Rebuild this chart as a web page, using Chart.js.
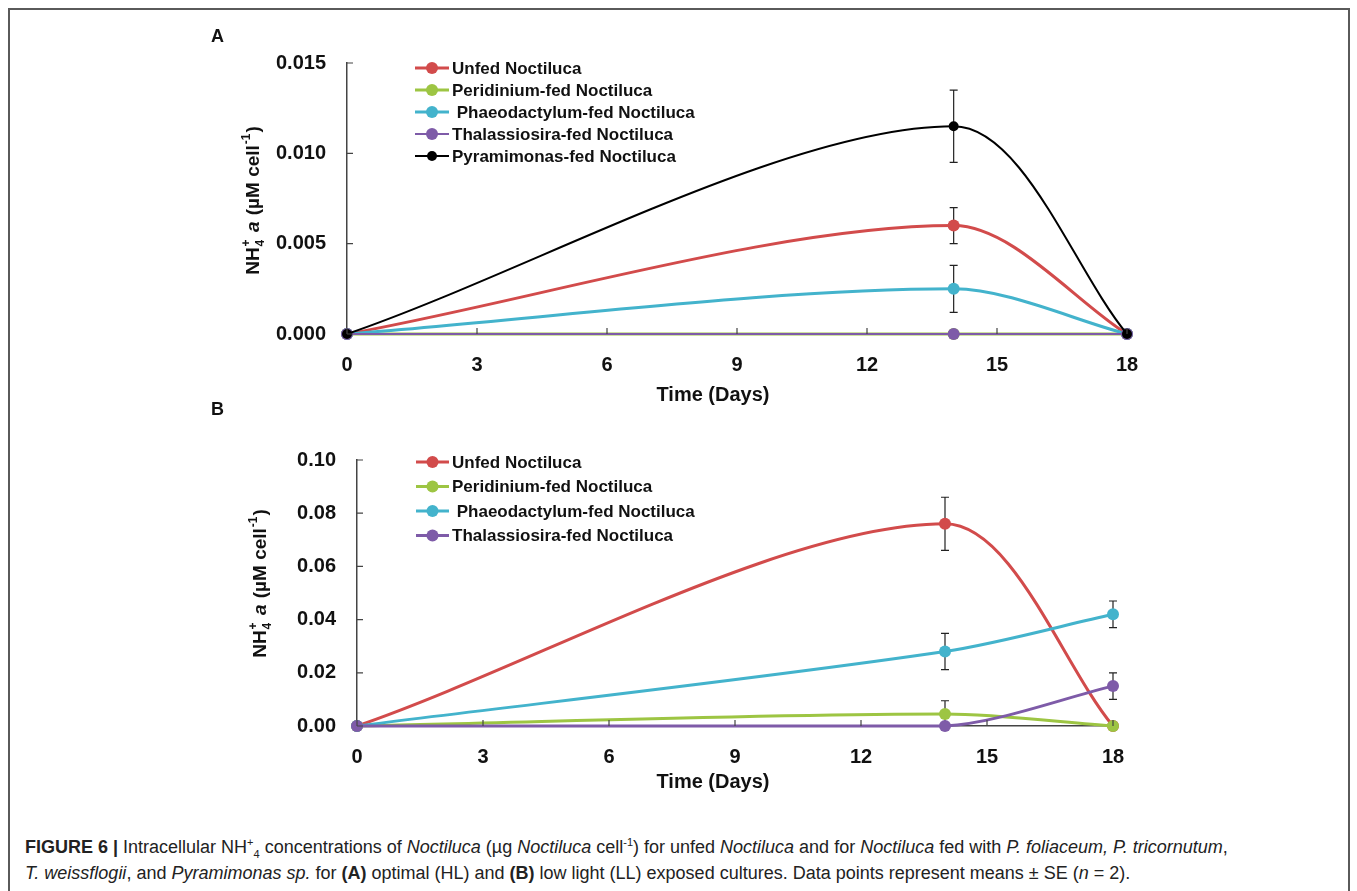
<!DOCTYPE html>
<html lang="en">
<head>
  <meta charset="UTF-8" />
  <title>Figure 6 - Intracellular NH4 in Noctiluca</title>
  <script src="https://cdn.jsdelivr.net/npm/chart.js"></script>
  <style>
    body { margin: 0; background: #fff; font-family: "Liberation Sans", Arial, sans-serif; }
    #frame {
      position: absolute; left: 8px; top: 8px; width: 1342px; height: 920px;
      box-sizing: border-box; border: 2px solid #5a5a5a;
    }
    canvas { position: absolute; }
    #chartA { left: 200px; top: 20px; }
    #chartB { left: 200px; top: 400px; }
    .panel { position: absolute; font: bold 18px "Liberation Sans", Arial, sans-serif; color: #111; }
    #caption {
      position: absolute; left: 25px; top: 834px; width: 1320px;
      font-size: 18px; line-height: 26px; color: #222; white-space: nowrap;
    }
    #caption sup, #caption sub { font-size: 11px; line-height: 0; }
  </style>
</head>
<body>
  <div id="frame"></div>
  <canvas id="chartA" width="980" height="390"></canvas>
  <canvas id="chartB" width="980" height="410"></canvas>
  <div class="panel" style="left:211px; top:26px;">A</div>
  <div class="panel" style="left:211px; top:399px;">B</div>
  <div id="caption"><b>FIGURE 6 |</b> Intracellular NH<sup>+</sup><sub>4</sub> concentrations of <i>Noctiluca</i> (µg <i>Noctiluca</i> cell<sup>-1</sup>) for unfed <i>Noctiluca</i> and for <i>Noctiluca</i> fed with <i>P. foliaceum, P. tricornutum</i>,<br><i>T. weissflogii</i>, and <i>Pyramimonas sp.</i> for <b>(A)</b> optimal (HL) and <b>(B)</b> low light (LL) exposed cultures. Data points represent means ± SE (<i>n</i> = 2).</div>

  <script>
    // sampling days
    const days = [0, 14, 18];

    // panel A (optimal light)
    const namesA = ['Unfed Noctiluca', 'Peridinium-fed Noctiluca', ' Phaeodactylum-fed Noctiluca', 'Thalassiosira-fed Noctiluca', 'Pyramimonas-fed Noctiluca'];
    const unfedA = [0, 0.0060, 0];
    const peridA = [0, 0, 0];
    const phaeoA = [0, 0.0025, 0];
    const thalA = [0, 0, 0];
    const pyraA = [0, 0.0115, 0];
    const unfedA_se = [0, 0.0010, 0];
    const peridA_se = [0, 0, 0];
    const phaeoA_se = [0, 0.0013, 0];
    const thalA_se = [0, 0, 0];
    const pyraA_se = [0, 0.0020, 0];

    // panel B (low light)
    const namesB = ['Unfed Noctiluca', 'Peridinium-fed Noctiluca', ' Phaeodactylum-fed Noctiluca', 'Thalassiosira-fed Noctiluca'];
    const unfedB = [0, 0.076, 0];
    const peridB = [0, 0.0045, 0];
    const phaeoB = [0, 0.028, 0.042];
    const thalB = [0, 0, 0.015];
    const unfedB_se = [0, 0.010, 0];
    const peridB_se = [0, 0.005, 0];
    const phaeoB_se = [0, 0.0068, 0.005];
    const thalB_se = [0, 0, 0.005];

    const colors = ['#d24b4b', '#9dc543', '#43b3cc', '#7e5ba8', '#000000'];

    function makeDataset(label, values, se, i, n, opts) {
      return Object.assign({
        label: label,
        data: days.map((d, k) => ({ x: d, y: values[k] })),
        se: se,
        borderColor: colors[i],
        backgroundColor: colors[i],
        borderWidth: 3,
        pointRadius: 6,
        pointBorderWidth: 0,
        tension: 0.3,
        clip: false,
        order: n - i
      }, opts || {});
    }

    function drawYTitle(ctx, cx, cy) {
      const big = 'bold 19px "Liberation Sans", Arial, sans-serif';
      const ital = 'italic bold 19px "Liberation Sans", Arial, sans-serif';
      const small = 'bold 12px "Liberation Sans", Arial, sans-serif';
      const parts = [
        { t: 'NH', f: big, dy: 0 },
        { t: '+', f: small, dy: -7, stack: '4' },
        { t: ' ', f: big, dy: 0 },
        { t: 'a', f: ital, dy: 0 },
        { t: ' (µM cell', f: big, dy: 0 },
        { t: '-1', f: small, dy: -7 },
        { t: ')', f: big, dy: 0 }
      ];
      ctx.save();
      ctx.translate(cx, cy);
      ctx.rotate(-Math.PI / 2);
      ctx.fillStyle = '#111';
      ctx.textBaseline = 'middle';
      ctx.textAlign = 'left';
      let total = 0;
      parts.forEach(p => { ctx.font = p.f; p.w = ctx.measureText(p.t).width + 1; total += p.w; });
      let x = -total / 2;
      parts.forEach(p => {
        ctx.font = p.f;
        ctx.fillText(p.t, x, p.dy);
        if (p.stack) ctx.fillText(p.stack, x, 7);
        x += p.w;
      });
      ctx.restore();
    }

    function decoPlugin(p) {
      return {
        id: 'deco',
        beforeDatasetsDraw(chart) {
          const ctx = chart.ctx, xs = chart.scales.x, ys = chart.scales.y;
          ctx.save();
          ctx.strokeStyle = '#222';
          ctx.lineWidth = 1.2;
          chart.data.datasets.forEach(ds => {
            ds.data.forEach((pt, k) => {
              const e = ds.se[k];
              if (!e) return;
              const x = xs.getPixelForValue(pt.x);
              const y1 = ys.getPixelForValue(pt.y + e);
              const y2 = ys.getPixelForValue(pt.y - e);
              ctx.beginPath();
              ctx.moveTo(x, y1); ctx.lineTo(x, y2);
              ctx.moveTo(x - 4, y1); ctx.lineTo(x + 4, y1);
              ctx.moveTo(x - 4, y2); ctx.lineTo(x + 4, y2);
              ctx.stroke();
            });
          });
          ctx.restore();
        },
        afterDraw(chart) {
          const ctx = chart.ctx, xs = chart.scales.x, ys = chart.scales.y, a = chart.chartArea;
          ctx.save();
          // inward tick marks
          ctx.strokeStyle = '#444';
          ctx.lineWidth = 1.2;
          ctx.beginPath();
          ys.ticks.forEach(t => {
            const y = ys.getPixelForValue(t.value);
            ctx.moveTo(a.left, y); ctx.lineTo(a.left + 6, y);
          });
          xs.ticks.forEach(t => {
            const x = xs.getPixelForValue(t.value);
            ctx.moveTo(x, a.bottom); ctx.lineTo(x, a.bottom - 6);
          });
          ctx.stroke();

          // legend: line with dot
          chart.data.datasets.forEach((ds, i) => {
            const y = p.legY + i * p.legDy;
            ctx.strokeStyle = ds.borderColor;
            ctx.lineWidth = ds.borderWidth;
            ctx.beginPath();
            ctx.moveTo(p.legX0, y); ctx.lineTo(p.legX1, y);
            ctx.stroke();
            ctx.fillStyle = ds.borderColor;
            ctx.beginPath();
            ctx.arc((p.legX0 + p.legX1) / 2, y, ds.pointRadius, 0, Math.PI * 2);
            ctx.fill();
            ctx.fillStyle = '#111';
            ctx.font = 'bold 17px "Liberation Sans", Arial, sans-serif';
            ctx.textBaseline = 'middle';
            ctx.textAlign = 'left';
            ctx.fillText(ds.label, p.legX1 + 3, y + 1);
          });

          // axis titles
          ctx.fillStyle = '#111';
          ctx.font = 'bold 20px "Liberation Sans", Arial, sans-serif';
          ctx.textAlign = 'center';
          ctx.textBaseline = 'middle';
          ctx.fillText('Time (Days)', p.xTitleX, p.xTitleY);
          drawYTitle(ctx, p.yTitleX, p.yTitleY);
          ctx.restore();
        }
      };
    }

    function makeChart(id, datasets, yMax, yStep, digits, p) {
      const canvas = document.getElementById(id);
      return new Chart(canvas.getContext('2d'), {
        type: 'line',
        data: { datasets: datasets },
        options: {
          responsive: false,
          animation: false,
          layout: { padding: { left: 0, top: p.top, right: canvas.width - p.right, bottom: 0 } },
          plugins: { legend: { display: false }, tooltip: { enabled: false } },
          scales: {
            x: {
              type: 'linear', min: 0, max: 18,
              grid: { display: false, drawTicks: false },
              border: { display: true, color: '#444', width: 1.5 },
              ticks: {
                stepSize: 3, padding: 19, color: '#111',
                font: { family: '"Liberation Sans", Arial, sans-serif', size: 20, weight: 'bold' }
              },
              afterFit(scale) { scale.height = canvas.height - p.bottom; }
            },
            y: {
              min: 0, max: yMax,
              grid: { display: false, drawTicks: false },
              border: { display: true, color: '#444', width: 1.5 },
              ticks: {
                stepSize: yStep, padding: 21, color: '#111',
                font: { family: '"Liberation Sans", Arial, sans-serif', size: 20, weight: 'bold' },
                callback: v => Number(v).toFixed(digits)
              },
              afterFit(scale) { scale.width = p.left; }
            }
          }
        },
        plugins: [decoPlugin(p)]
      });
    }

    const valsA = [unfedA, peridA, phaeoA, thalA, pyraA];
    const seA = [unfedA_se, peridA_se, phaeoA_se, thalA_se, pyraA_se];
    const dsA = namesA.map((n, i) => makeDataset(n, valsA[i], seA[i], i, namesA.length,
      i === 3 ? { borderWidth: 2 } : i === 4 ? { borderWidth: 2, pointRadius: 5 } : null));

    const valsB = [unfedB, peridB, phaeoB, thalB];
    const seB = [unfedB_se, peridB_se, phaeoB_se, thalB_se];
    const dsB = namesB.map((n, i) => makeDataset(n, valsB[i], seB[i], i, namesB.length));

    makeChart('chartA', dsA, 0.015, 0.005, 3, {
      left: 147, right: 927, top: 43, bottom: 314,
      legX0: 215, legX1: 249, legY: 48, legDy: 22,
      xTitleX: 513, xTitleY: 375, yTitleX: 54, yTitleY: 180
    });

    makeChart('chartB', dsB, 0.10, 0.02, 2, {
      left: 157, right: 913, top: 60, bottom: 326,
      legX0: 216, legX1: 249, legY: 62, legDy: 24.5,
      xTitleX: 513, xTitleY: 382, yTitleX: 61, yTitleY: 183
    });
  </script>
</body>
</html>
